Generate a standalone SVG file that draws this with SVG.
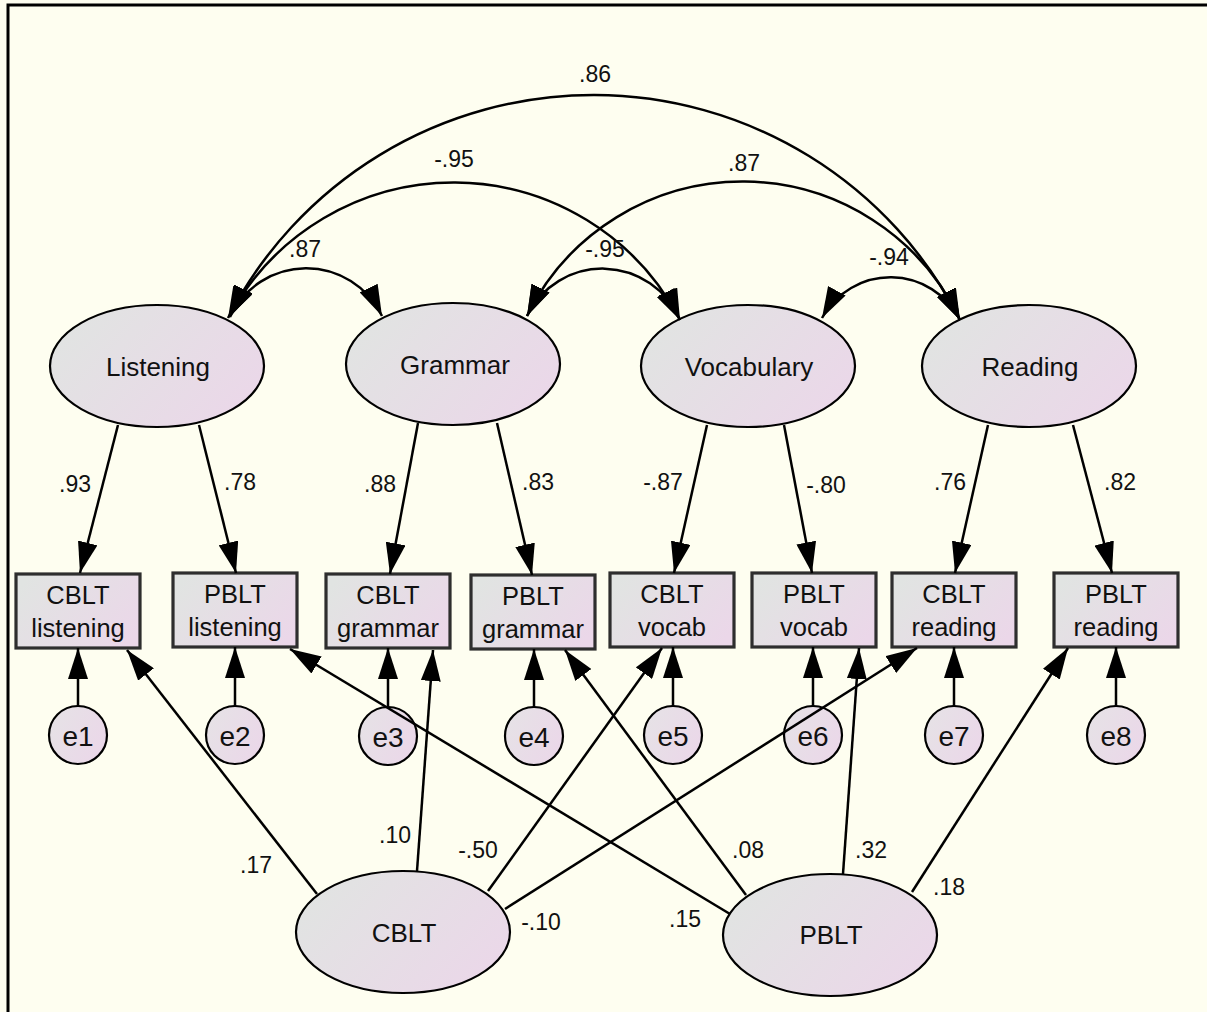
<svg xmlns="http://www.w3.org/2000/svg" width="1207" height="1012" viewBox="0 0 1207 1012">
  <defs>
    <linearGradient id="nodeFill" x1="0" y1="0.25" x2="1" y2="0.75">
      <stop offset="0" stop-color="#E1E4E2"/>
      <stop offset="1" stop-color="#EBD7E9"/>
    </linearGradient>
    <linearGradient id="errFill" x1="0" y1="0.25" x2="1" y2="0.75">
      <stop offset="0" stop-color="#E6E2E6"/>
      <stop offset="1" stop-color="#EBD7E9"/>
    </linearGradient>
    <marker id="ah" viewBox="0 0 31 20" refX="31" refY="10" markerWidth="31" markerHeight="20" markerUnits="userSpaceOnUse" orient="auto-start-reverse">
      <path d="M0,0 L31,10 L0,20 z" fill="#000"/>
    </marker>
  </defs>
  <style>
    text { font-family: "Liberation Sans", Arial, Helvetica, sans-serif; fill: #111; text-anchor: middle; }
    .latent { fill: url(#nodeFill); stroke: #000; stroke-width: 2.2; }
    .obs { fill: url(#nodeFill); stroke: #2e2e2e; stroke-width: 3.2; }
    .err { fill: url(#errFill); stroke: #000; stroke-width: 2.2; }
    .big { font-size: 26px; }
    .box { font-size: 25.5px; }
    .elab { font-size: 28px; }
    .coef { font-size: 23px; }
    .path { fill: none; stroke: #000; stroke-width: 2.5; marker-end: url(#ah); }
    .cov { fill: none; stroke: #000; stroke-width: 2.5; marker-start: url(#ah); marker-end: url(#ah); }
  </style>

  <!-- canvas -->
  <rect x="0" y="0" width="1207" height="1012" fill="#FEFEF0"/>
  <path d="M8,1012 V5 H1207" fill="none" stroke="#000" stroke-width="3"/>

  <!-- latent factors -->
  <g id="Listening"><ellipse class="latent" cx="157" cy="366" rx="107" ry="61"/><text class="big" x="158" y="376">Listening</text></g>
  <g id="Grammar"><ellipse class="latent" cx="453" cy="364" rx="107" ry="61"/><text class="big" x="455" y="374">Grammar</text></g>
  <g id="Vocabulary"><ellipse class="latent" cx="748" cy="366" rx="107" ry="61"/><text class="big" x="749" y="376">Vocabulary</text></g>
  <g id="Reading"><ellipse class="latent" cx="1029" cy="366" rx="107" ry="61"/><text class="big" x="1030" y="376">Reading</text></g>

  <!-- observed measures -->
  <g id="CBLT_listening"><rect class="obs" x="16" y="574" width="124" height="74"/><text class="box" x="78" y="604">CBLT</text><text class="box" x="78" y="637">listening</text></g>
  <g id="PBLT_listening"><rect class="obs" x="173" y="573" width="124" height="74"/><text class="box" x="235" y="603">PBLT</text><text class="box" x="235" y="636">listening</text></g>
  <g id="CBLT_grammar"><rect class="obs" x="326" y="574" width="124" height="74"/><text class="box" x="388" y="604">CBLT</text><text class="box" x="388" y="637">grammar</text></g>
  <g id="PBLT_grammar"><rect class="obs" x="471" y="575" width="124" height="74"/><text class="box" x="533" y="605">PBLT</text><text class="box" x="533" y="638">grammar</text></g>
  <g id="CBLT_vocab"><rect class="obs" x="610" y="573" width="124" height="74"/><text class="box" x="672" y="603">CBLT</text><text class="box" x="672" y="636">vocab</text></g>
  <g id="PBLT_vocab"><rect class="obs" x="752" y="573" width="124" height="74"/><text class="box" x="814" y="603">PBLT</text><text class="box" x="814" y="636">vocab</text></g>
  <g id="CBLT_reading"><rect class="obs" x="892" y="573" width="124" height="74"/><text class="box" x="954" y="603">CBLT</text><text class="box" x="954" y="636">reading</text></g>
  <g id="PBLT_reading"><rect class="obs" x="1054" y="573" width="124" height="74"/><text class="box" x="1116" y="603">PBLT</text><text class="box" x="1116" y="636">reading</text></g>

  <!-- error terms -->
  <g id="e1"><circle class="err" cx="78" cy="735" r="29"/><text class="elab" x="78" y="746">e1</text></g>
  <g id="e2"><circle class="err" cx="235" cy="735" r="29"/><text class="elab" x="235" y="746">e2</text></g>
  <g id="e3"><circle class="err" cx="388" cy="736" r="29"/><text class="elab" x="388" y="747">e3</text></g>
  <g id="e4"><circle class="err" cx="534" cy="736" r="29"/><text class="elab" x="534" y="747">e4</text></g>
  <g id="e5"><circle class="err" cx="673" cy="735" r="29"/><text class="elab" x="673" y="746">e5</text></g>
  <g id="e6"><circle class="err" cx="813" cy="735" r="29"/><text class="elab" x="813" y="746">e6</text></g>
  <g id="e7"><circle class="err" cx="954" cy="735" r="29"/><text class="elab" x="954" y="746">e7</text></g>
  <g id="e8"><circle class="err" cx="1116" cy="735" r="29"/><text class="elab" x="1116" y="746">e8</text></g>

  <!-- methods -->
  <g id="CBLT"><ellipse class="latent" cx="403" cy="932" rx="107" ry="61"/><text class="big" x="404" y="942">CBLT</text></g>
  <g id="PBLT"><ellipse class="latent" cx="830" cy="935" rx="107" ry="61"/><text class="big" x="831" y="944">PBLT</text></g>

  <!-- connectors -->
  <g id="connectors">
    <!-- factor covariances -->
    <path class="cov" d="M230,317 A84,84 0 0 1 382,316"/>
    <path class="cov" d="M527,316 A84,84 0 0 1 680,320"/>
    <path class="cov" d="M822,318 A78,78 0 0 1 960,320"/>
    <path class="cov" d="M229,317 A255,255 0 0 1 680,320"/>
    <path class="cov" d="M527,316 A240,240 0 0 1 960,320"/>
    <path class="cov" d="M228,318 A411,411 0 0 1 960,320"/>

    <!-- loadings -->
    <path class="path" d="M118,425 L80,573"/>
    <path class="path" d="M199,425 L236,573"/>
    <path class="path" d="M418,423 L390,574"/>
    <path class="path" d="M497,423 L532,575"/>
    <path class="path" d="M707,425 L674,573"/>
    <path class="path" d="M784,425 L812,573"/>
    <path class="path" d="M988,425 L955,573"/>
    <path class="path" d="M1073,425 L1112,573"/>

    <!-- residuals -->
    <path class="path" d="M78,706 V648"/>
    <path class="path" d="M235,706 V647"/>
    <path class="path" d="M388,707 V648"/>
    <path class="path" d="M534,707 V649"/>
    <path class="path" d="M673,706 V647"/>
    <path class="path" d="M813,706 V647"/>
    <path class="path" d="M954,706 V647"/>
    <path class="path" d="M1116,706 V647"/>

    <!-- method effects -->
    <path class="path" d="M317,894 L127,650"/>
    <path class="path" d="M417,871 L433,650"/>
    <path class="path" d="M488,891 L662,648"/>
    <path class="path" d="M505,909 L917,648"/>
    <path class="path" d="M730,914 L290,649"/>
    <path class="path" d="M746,895 L565,650"/>
    <path class="path" d="M843,874 L859,648"/>
    <path class="path" d="M912,892 L1068,648"/>
  </g>

  <!-- estimates -->
  <g id="estimates">
    <text class="coef" x="595" y="82">.86</text>
    <text class="coef" x="454" y="167">-.95</text>
    <text class="coef" x="744" y="171">.87</text>
    <text class="coef" x="305" y="257">.87</text>
    <text class="coef" x="605" y="257">-.95</text>
    <text class="coef" x="889" y="265">-.94</text>

    <text class="coef" x="75" y="492">.93</text>
    <text class="coef" x="240" y="490">.78</text>
    <text class="coef" x="380" y="492">.88</text>
    <text class="coef" x="538" y="490">.83</text>
    <text class="coef" x="663" y="490">-.87</text>
    <text class="coef" x="826" y="493">-.80</text>
    <text class="coef" x="950" y="490">.76</text>
    <text class="coef" x="1120" y="490">.82</text>

    <text class="coef" x="256" y="873">.17</text>
    <text class="coef" x="395" y="843">.10</text>
    <text class="coef" x="478" y="858">-.50</text>
    <text class="coef" x="541" y="930">-.10</text>
    <text class="coef" x="685" y="927">.15</text>
    <text class="coef" x="748" y="858">.08</text>
    <text class="coef" x="871" y="858">.32</text>
    <text class="coef" x="949" y="895">.18</text>
  </g>
</svg>
